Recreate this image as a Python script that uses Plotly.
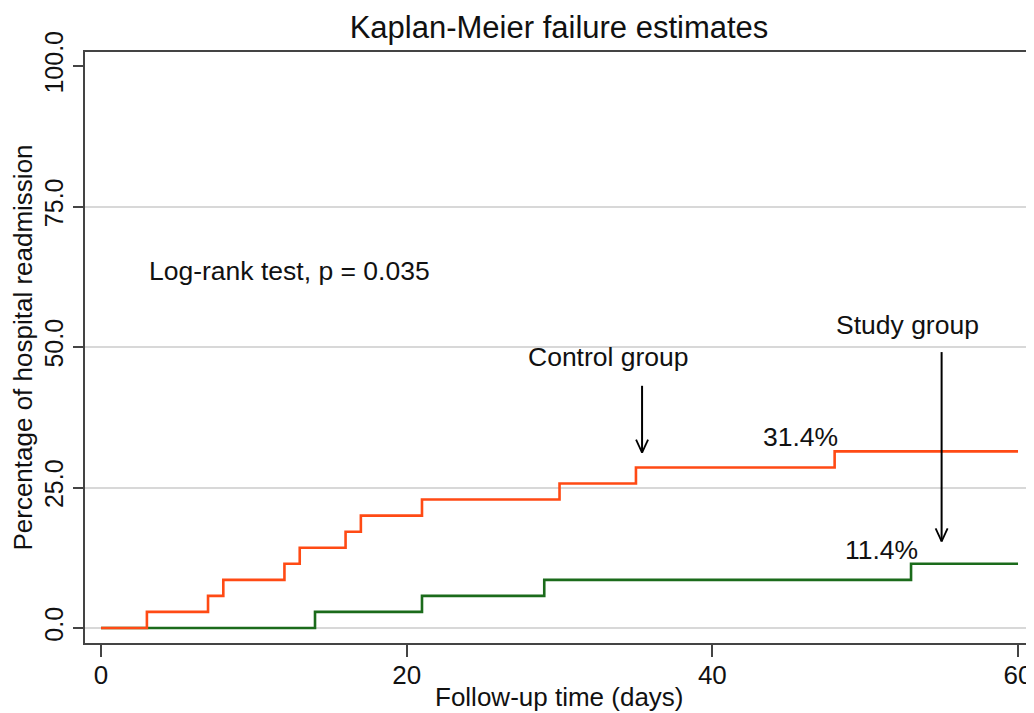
import plotly.graph_objects as go

# Data
control_days = [0, 3, 7, 8, 12, 13, 16, 17, 21, 30, 35, 48, 60]
control_pct = [0.0, 2.86, 5.71, 8.57, 11.43, 14.29, 17.14, 20.0, 22.86, 25.71, 28.57, 31.43, 31.43]
study_days = [0, 14, 21, 29, 53, 60]
study_pct = [0.0, 2.86, 5.71, 8.57, 11.43, 11.43]

x_ticks = [0, 20, 40, 60]
y_ticks = [0, 25, 50, 75, 100]
y_tick_labels = ["0.0", "25.0", "50.0", "75.0", "100.0"]
grid_vals = [0, 25, 50, 75]

FONT = "Liberation Sans, Arial, sans-serif"
ORANGE = "#FF4A14"
GREEN = "#1B6B1B"

fig = go.Figure()
fig.add_trace(go.Scatter(x=study_days, y=study_pct, mode="lines", line_shape="hv",
                         line=dict(color=GREEN, width=2.6), showlegend=False, hoverinfo="skip"))
fig.add_trace(go.Scatter(x=control_days, y=control_pct, mode="lines", line_shape="hv",
                         line=dict(color=ORANGE, width=2.6), showlegend=False, hoverinfo="skip"))

annots = [
    dict(x=3.0, y=63.5, text="Log-rank test, p = 0.035", xanchor="left"),
    dict(x=33.2, y=48.2, text="Control group", xanchor="center"),
    dict(x=52.75, y=53.9, text="Study group", xanchor="center"),
    dict(x=45.75, y=34.0, text="31.4%", xanchor="center"),
    dict(x=51.05, y=13.9, text="11.4%", xanchor="center"),
]
for a in annots:
    fig.add_annotation(x=a["x"], y=a["y"], text=a["text"], xanchor=a["xanchor"], yanchor="middle",
                       showarrow=False, font=dict(family=FONT, size=26.5, color="#111111"))

# x-axis title placed as a paper annotation below the tick labels
fig.add_annotation(x=0.5, y=0, xref="paper", yref="paper", yshift=-54, text="Follow-up time (days)",
                   xanchor="center", yanchor="middle", showarrow=False,
                   font=dict(family=FONT, size=26, color="#111111"))

# Arrows: shaft + open V head
arrows = [(35.4, 43.1, 31.2), (55.0, 49.1, 15.4)]
for ax_, ytop, ytip in arrows:
    fig.add_shape(type="line", x0=ax_, x1=ax_, y0=ytop, y1=ytip, xref="x", yref="y",
                  line=dict(color="#000000", width=2))
    for dx in (-6, 6):
        fig.add_shape(type="line", xref="x", yref="y", xsizemode="pixel", ysizemode="pixel",
                      xanchor=ax_, yanchor=ytip, x0=0, y0=0, x1=dx, y1=13,
                      line=dict(color="#000000", width=1.8))

# right border (light)
fig.add_shape(type="line", xref="paper", yref="paper", x0=1, x1=1, y0=0, y1=1,
              line=dict(color="#BBBBBB", width=1))

# The page body adds an 8px offset, so the figure is sized to fill the rest of the window.
W, H = 1026, 705
fig.update_layout(
    width=W, height=H,
    margin=dict(l=77, r=1, t=44, b=70, autoexpand=False),
    paper_bgcolor="white", plot_bgcolor="white",
    font=dict(family=FONT, color="#111111"),
    title=dict(text="Kaplan-Meier failure estimates", x=0.5, xref="paper",
               y=1 - 19 / H, yref="container", xanchor="center", yanchor="middle",
               font=dict(family=FONT, size=31, color="#111111")),
)
fig.update_xaxes(range=[-1.05, 60.98], tickvals=x_ticks, ticks="outside", ticklen=12,
                 tickwidth=1.5, tickcolor="#444444", showgrid=False, zeroline=False,
                 showline=True, linecolor="#444444", linewidth=2, mirror=True, automargin=False,
                 ticklabelstandoff=-4,
                 tickfont=dict(family=FONT, size=26, color="#111111"))
fig.update_yaxes(range=[-2.67, 102.5], tickvals=y_ticks, ticktext=y_tick_labels,
                 tickangle=-90, ticks="outside", ticklen=10, tickwidth=1.5, tickcolor="#444444",
                 showgrid=False, zeroline=False, showline=True, linecolor="#444444", linewidth=2,
                 automargin=False,
                 tickfont=dict(family=FONT, size=25, color="#111111"),
                 minor=dict(tickvals=grid_vals, showgrid=True, gridcolor="#D8D8D8", gridwidth=1.5, ticks=""),
                 title=dict(text="Percentage of hospital readmission", standoff=0,
                            font=dict(family=FONT, size=26, color="#111111")))

fig.write_html("out.html")
